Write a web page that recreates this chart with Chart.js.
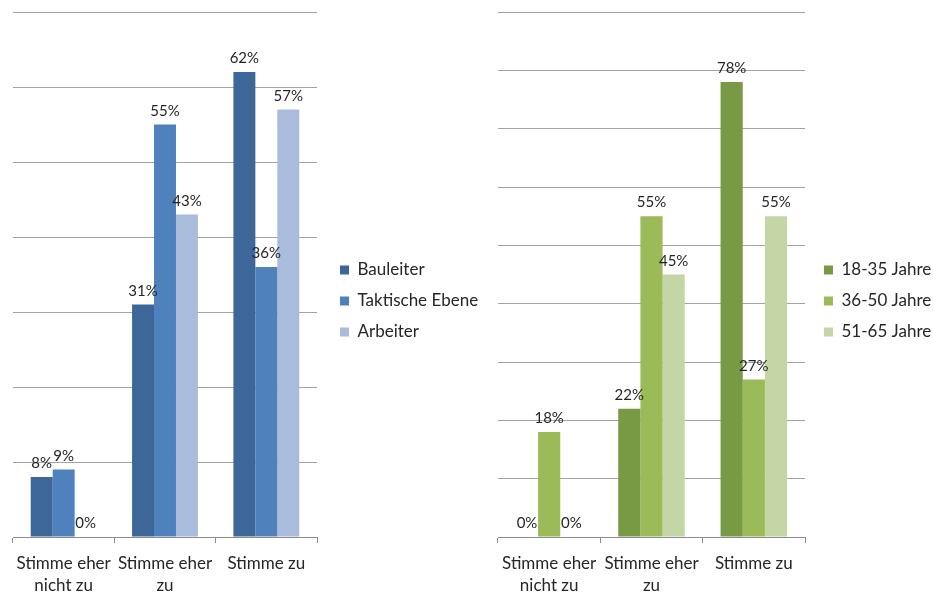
<!DOCTYPE html>
<html>
<head>
<meta charset="utf-8">
<script src="https://cdn.jsdelivr.net/npm/chart.js@4"></script>
<style>
  html, body { margin: 0; padding: 0; background: #fff; }
  body { width: 933px; height: 594px; position: relative; overflow: hidden; }
  .box { position: absolute; top: 0; height: 594px; }
  #left { left: 0; width: 490px; }
  #right { left: 485px; width: 448px; }
</style>
</head>
<body>
<div class="box" id="left"><canvas id="rolle"></canvas></div>
<div class="box" id="right"><canvas id="alter"></canvas></div>
<script>
const categories = [['Stimme eher', 'nicht zu'], ['Stimme eher', 'zu'], 'Stimme zu'];

// Zustimmung nach Rolle (in %)
const rollen = ['Bauleiter', 'Taktische Ebene', 'Arbeiter'];
const bauleiter = [8, 31, 62];
const taktisch = [9, 55, 36];
const arbeiter = [0, 43, 57];

// Zustimmung nach Alter (in %)
const altersgruppen = ['18-35 Jahre', '36-50 Jahre', '51-65 Jahre'];
const jahre18bis35 = [0, 22, 78];
const jahre36bis50 = [18, 55, 27];
const jahre51bis65 = [0, 45, 55];

const blues = ['#3d6699', '#4f81bd', '#a9bcdb'];
const greens = ['#799a45', '#9bbb59', '#c5d6a6'];

Chart.defaults.font.family = 'Lato, "Open Sans", sans-serif';
Chart.defaults.color = '#262626';
Chart.defaults.animation = false;

// writes "xx%" above every bar
const valueLabels = {
  id: 'valueLabels',
  afterDatasetsDraw(chart) {
    const ctx = chart.ctx;
    ctx.save();
    ctx.font = '15px Lato, "Open Sans", sans-serif';
    ctx.fillStyle = '#262626';
    ctx.textAlign = 'center';
    ctx.textBaseline = 'alphabetic';
    chart.data.datasets.forEach((ds, i) => {
      chart.getDatasetMeta(i).data.forEach((bar, j) => {
        ctx.fillText(ds.data[j] + '%', bar.x, bar.y - 9);
      });
    });
    ctx.restore();
  }
};

// fixed legend width, and a small gap between plot and legend items
const legendSpace = {
  id: 'legendSpace',
  afterInit(chart, args, opts) {
    const legend = chart.legend;
    const fit = legend.fit;
    legend.fit = function () {
      fit.call(this);
      this.width = opts.width;
    };
  },
  afterLayout(chart, args, opts) {
    const legend = chart.legend;
    legend.left += opts.shiftX;
    legend.right += opts.shiftX;
    legend.top += opts.shiftY;
    legend.bottom += opts.shiftY;
  }
};

function makeChart(id, names, series, colors, yMax, legendWidth, shiftX) {
  return new Chart(document.getElementById(id), {
    type: 'bar',
    data: {
      labels: categories,
      datasets: series.map((values, i) => ({
        label: names[i],
        data: values,
        backgroundColor: colors[i],
        borderWidth: 0,
        barPercentage: 1,
        categoryPercentage: 0.65
      }))
    },
    options: {
      responsive: true,
      maintainAspectRatio: false,
      layout: { padding: { left: 13, top: 12, right: 0, bottom: 0 } },
      plugins: {
        tooltip: { enabled: false },
        legend: {
          position: 'right',
          labels: { boxWidth: 9, boxHeight: 9, padding: 14, font: { size: 17 } }
        },
        legendSpace: { width: legendWidth, shiftX: shiftX, shiftY: -2 }
      },
      scales: {
        x: {
          grid: { display: true, drawOnChartArea: false, drawTicks: true, tickLength: 6, color: '#8c8c8c', offset: true },
          border: { display: true, color: '#8c8c8c' },
          ticks: { font: { size: 17, lineHeight: 1.3 }, padding: 9, maxRotation: 0, autoSkip: false },
          afterFit(axis) { axis.height = 57; }
        },
        y: {
          min: 0,
          max: yMax,
          ticks: { display: false, stepSize: 10 },
          grid: { color: '#a3a3a3', drawTicks: false },
          border: { display: false }
        }
      }
    },
    plugins: [valueLabels, legendSpace]
  });
}

makeChart('rolle', rollen, [bauleiter, taktisch, arbeiter], blues, 70, 173, 9);
makeChart('alter', altersgruppen, [jahre18bis35, jahre36bis50, jahre51bis65], greens, 90, 128, 5);
</script>
</body>
</html>
